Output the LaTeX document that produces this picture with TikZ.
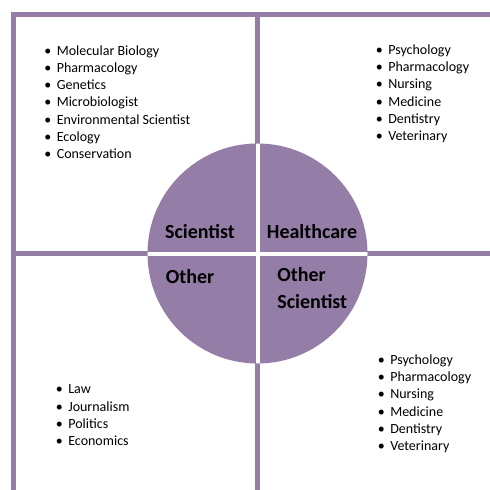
\documentclass[tikz,border=0pt]{standalone}
\usepackage{fontspec}
\setmainfont{Carlito}
\definecolor{quadpurple}{RGB}{148,125,166}
\newcommand{\bul}{\makebox[6.2pt][l]{\textbullet}}
\tikzset{
  divider/.style={draw=quadpurple, line width=2.5pt},
  lbl/.style={font=\fontsize{10}{13.5}\selectfont\bfseries, inner sep=0pt},
  lst/.style={font=\fontsize{7}{8.6}\selectfont, align=left, inner sep=0pt, anchor=base west}
}
\begin{document}
\begin{tikzpicture}[x=0.5pt, y=-0.5pt]
  \useasboundingbox (0,0) rectangle (490,490);

  % frame and dividers
  \draw[divider] (13.5,12) -- (13.5,490);
  \draw[divider] (11,14.5) -- (490,14.5);
  \draw[divider] (257.5,12) -- (257.5,490);
  \draw[divider] (11,253.5) -- (490,253.5);

  % centre disc, cut in four
  \fill[quadpurple] (257.5,253.5) circle[radius=110];
  \begin{scope}
    \clip (257.5,253.5) circle[radius=110];
    \draw[white, line width=2pt] (257.5,130) -- (257.5,380);
    \draw[white, line width=2pt] (130,254) -- (380,254);
  \end{scope}

  \node[lbl] (sci) at (200,232) {Scientist};
  \node[lbl] (health) at (312,232) {Healthcare};
  \node[lbl] (other) at (190,277) {Other};
  \node[lbl, align=left, anchor=west] (othersci) at (277,288.5) {Other\\Scientist};

  % lists, placed by the baseline of their last line
  \node[lst] (scilist) at (44,158.5) {\bul Molecular Biology\\ \bul Pharmacology\\ \bul Genetics\\ \bul Microbiologist\\ \bul Environmental Scientist\\ \bul Ecology\\ \bul Conservation};
  \node[lst] (healthlist) at (375.5,140.5) {\bul Psychology\\ \bul Pharmacology\\ \bul Nursing\\ \bul Medicine\\ \bul Dentistry\\ \bul Veterinary};
  \node[lst] (otherlist) at (55.5,445.5) {\bul Law\\ \bul Journalism\\ \bul Politics\\ \bul Economics};
  \node[lst] (otherscilist) at (377.5,450.5) {\bul Psychology\\ \bul Pharmacology\\ \bul Nursing\\ \bul Medicine\\ \bul Dentistry\\ \bul Veterinary};
\end{tikzpicture}
\end{document}
